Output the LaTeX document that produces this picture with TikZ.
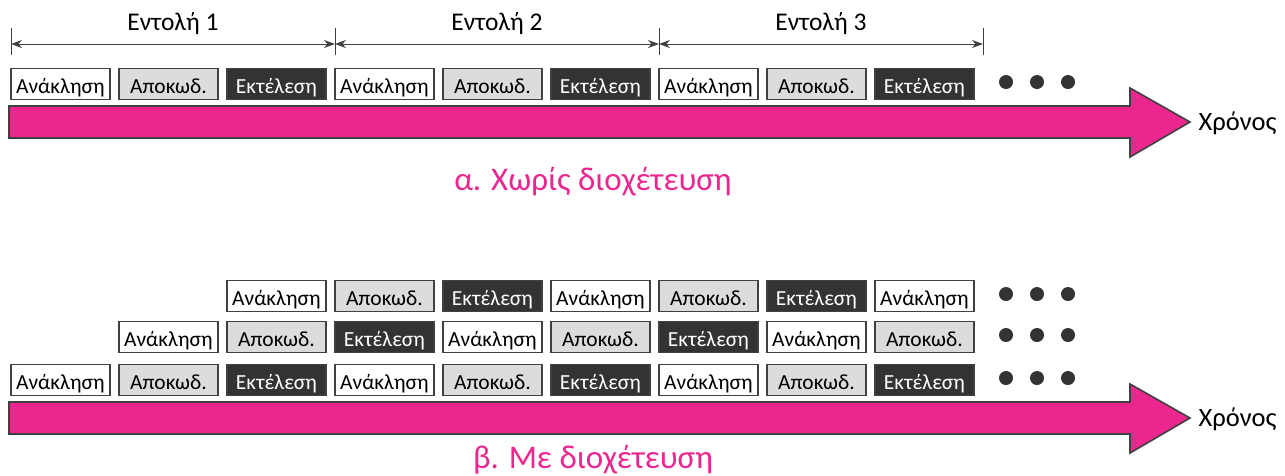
\documentclass[tikz,border=0pt]{standalone}
\usepackage{fontspec}
\setmainfont{Carlito}
\usetikzlibrary{arrows.meta}
\definecolor{edge}{HTML}{404040}
\definecolor{magentaA}{HTML}{EC268F}
\definecolor{stagegray}{HTML}{DCDCDC}
\definecolor{stagedark}{HTML}{333333}
\tikzset{
  stage/.style={draw=edge, line width=1.8pt, minimum width=99pt, minimum height=31pt,
    inner sep=0pt, text height=20pt, text depth=2pt, anchor=west,
    font=\fontsize{21.5}{24}\selectfont},
  fetch/.style={stage, fill=white, text=black},
  decode/.style={stage, fill=stagegray, text=black},
  exec/.style={stage, fill=stagedark, text=white},
  timearrow/.style={fill=magentaA, draw=edge, line width=1.6pt},
  dimline/.style={draw=edge, line width=1pt, {Stealth[length=11pt,width=8pt]}-{Stealth[length=11pt,width=8pt]}},
  tick/.style={draw=edge, line width=1pt},
  dot/.style={fill=stagedark, draw=none},
  caption/.style={text=magentaA, font=\fontsize{33}{36}\selectfont},
  timelabel/.style={font=\fontsize{26.5}{30}\selectfont, anchor=west},
  dimlabel/.style={font=\fontsize{25.5}{28}\selectfont}
}
\begin{document}
\begin{tikzpicture}[x=1pt, y=-1pt]
\useasboundingbox (0,0) rectangle (1285,475);

% --- instruction spans above the sequential timeline
\foreach \k in {0,...,3} {
  \coordinate (t\k top) at (11+324*\k, 28);
  \coordinate (t\k) at (11+324*\k, 44);
  \coordinate (t\k bot) at (11+324*\k, 55);
  \draw[tick] (t\k top) -- (t\k bot);
}
\foreach \k/\n in {0/1,1/2,2/3} {
  \pgfmathtruncatemacro{\m}{\k+1}
  \draw[dimline] (t\k) -- (t\m);
  \node[dimlabel] (lbl\n) at (173+324*\k, 24) {Εντολή \n};
}

% --- sequential execution: one stage at a time
\foreach \i in {0,...,8} {
  \pgfmathtruncatemacro{\s}{mod(\i,3)}
  \ifcase\s
    \node[fetch] (a\i) at (10+108*\i, 84) {Ανάκληση};
  \or
    \node[decode] (a\i) at (10+108*\i, 84) {Αποκωδ.};
  \or
    \node[exec] (a\i) at (10+108*\i, 84) {Εκτέλεση};
  \fi
}
\foreach \x in {1006,1037,1068} \fill[dot] (\x,82) circle (7);
\draw[timearrow] (9,106) -- (1130,106) -- (1130,88) -- (1190,122) -- (1130,157) -- (1130,138) -- (9,138) -- cycle;
\node[timelabel] (timeA) at (1195,123) {Χρόνος};
\node[caption] (capA) at (593,182) {α. Χωρίς διοχέτευση};

% --- pipelined execution: three overlapping rows
\foreach \r/\y/\first in {0/380/0, 1/337/1, 2/296/2} {
  \foreach \i in {\first,...,8} {
    \pgfmathtruncatemacro{\s}{mod(\i-\first,3)}
    \ifcase\s
      \node[fetch] (p\r-\i) at (10+108*\i, \y) {Ανάκληση};
    \or
      \node[decode] (p\r-\i) at (10+108*\i, \y) {Αποκωδ.};
    \or
      \node[exec] (p\r-\i) at (10+108*\i, \y) {Εκτέλεση};
    \fi
  }
  \foreach \x in {1006,1037,1068} \fill[dot] (\x,\y-2) circle (7);
}
\draw[timearrow] (9,402) -- (1130,402) -- (1130,384) -- (1190,418) -- (1130,453) -- (1130,434) -- (9,434) -- cycle;
\node[timelabel] (timeB) at (1195,419) {Χρόνος};
\node[caption] (capB) at (593,460) {β. Με διοχέτευση};
\end{tikzpicture}
\end{document}
